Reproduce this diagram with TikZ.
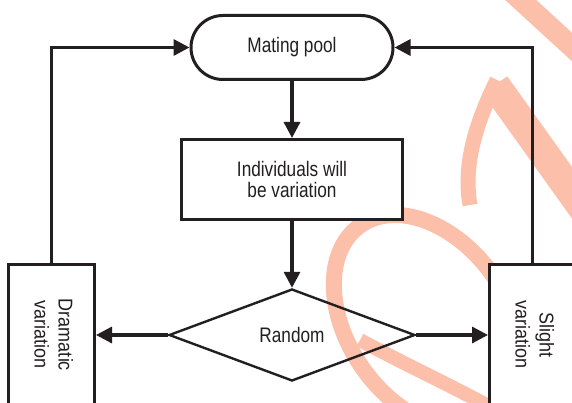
\documentclass[tikz,border=0pt]{standalone}
\usepackage{fontspec}
\setmainfont{Liberation Sans}
\newfontfamily\flowfont[FakeStretch=0.82]{Liberation Sans}
\newfontfamily\sidefont[FakeStretch=0.9]{Liberation Sans}
\usetikzlibrary{arrows.meta,shapes.geometric}
\definecolor{ink}{HTML}{231F20}
\definecolor{stamp}{HTML}{FCBFAA}

\begin{document}
\begin{tikzpicture}[x=1pt,y=-1pt,
  lbl/.style={text=ink, font=\flowfont\fontsize{21}{21.6}\selectfont, align=center},
  sidelbl/.style={text=ink, font=\sidefont\fontsize{20}{24}\selectfont},
  box/.style={draw=ink, line width=3pt, fill=white, inner sep=0pt},
  conn/.style={draw=ink, line width=3.3pt, -{Triangle[length=16pt,width=16pt]}}
]
\useasboundingbox (0,0) rectangle (572,403);
\fill[white] (0,0) rectangle (572,403);

% faint lettering in the background
\begin{scope}[draw=stamp]
  \draw[line width=16pt, rotate around={-55:(428,322)}]
    (428,322) ellipse [x radius=118, y radius=80];
  \draw[line width=14pt] (360,340) .. controls (400,362) and (450,385) .. (492,408);
  \draw[line width=15pt] (497,80) .. controls (480,115) and (462,160) .. (470,205);
  \draw[line width=30pt] (495,85) -- (600,232);
  \draw[line width=21pt] (512,-8) -- (584,58);
\end{scope}

% flow nodes
\node[box, lbl, rounded corners=32pt, minimum width=202pt, minimum height=64pt]
  (pool) at (292,47.5) {Mating pool};
\node[box, lbl, minimum width=221pt, minimum height=80pt]
  (ind) at (292,179.5) {Individuals will\\be variation};
\node[diamond, draw=ink, line width=2.4pt, inner sep=0pt, lbl,
  minimum width=246pt, minimum height=92pt]
  (rand) at (292,335) {Random};
\node[box, sidelbl, minimum width=86pt, minimum height=141pt]
  (dram) at (51.5,335)
  {\rotatebox{-90}{\begin{tabular}{@{}c@{}}Dramatic\\variation\end{tabular}}};
\node[box, sidelbl, minimum width=86pt, minimum height=141pt]
  (slight) at (532.5,335)
  {\rotatebox{-90}{\begin{tabular}{@{}c@{}}Slight\\variation\end{tabular}}};

% connectors
\draw[conn] (pool.south) -- (ind.north);
\draw[conn] (ind.south) -- (rand.north);
\draw[conn] (rand.west) -- (dram.east);
\draw[conn] (rand.east) -- (slight.west);
\draw[conn] (dram.north) |- (pool.west);
\draw[conn] (slight.north) |- (pool.east);
\end{tikzpicture}
\end{document}
